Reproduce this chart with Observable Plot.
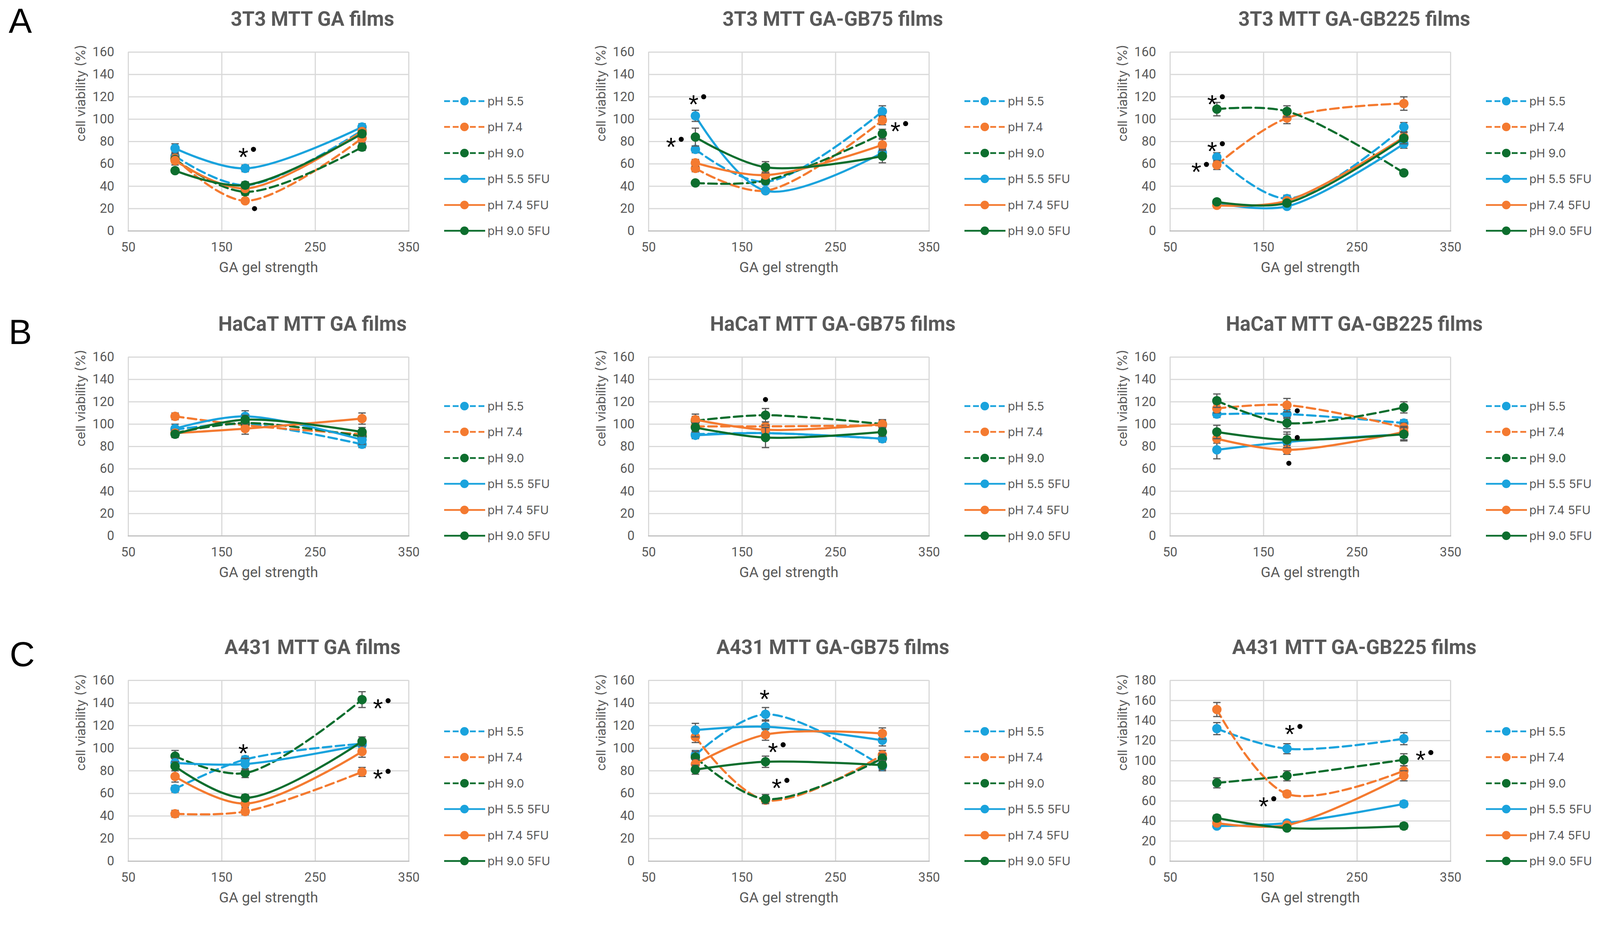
<!DOCTYPE html>
<html><head><meta charset="utf-8">
<script src="https://cdn.jsdelivr.net/npm/d3@7"></script>
<script src="https://cdn.jsdelivr.net/npm/@observablehq/plot@0.6"></script>
<style>
html,body{margin:0;padding:0;background:#fff;}
#root{position:relative;width:4238px;height:2415px;background:#fff;overflow:hidden;}
.abs{position:absolute;}
.title{font-family:"Roboto",sans-serif;font-weight:700;font-size:51px;color:#595959;white-space:nowrap;transform:translate(-50%,-50%);line-height:1;}
.letter{font-family:"Liberation Sans",sans-serif;font-size:89px;color:#000;transform:translate(-50%,-50%);line-height:1;}
.leg{font-family:"Inter","Roboto",sans-serif;font-size:30px;color:#595959;white-space:nowrap;transform:translateY(-50%);line-height:1;}
.sw{position:absolute;transform:translateY(-50%);}
</style></head><body><div id="root"></div><script>
// ---------- data ----------
const gelStrength = [100, 175, 300];
const seriesNames = ["pH 5.5", "pH 7.4", "pH 9.0", "pH 5.5 5FU", "pH 7.4 5FU", "pH 9.0 5FU"];
const seriesColors = ["#1AA3DD", "#F47A30", "#0D6E2E", "#1AA3DD", "#F47A30", "#0D6E2E"];
const seriesDashed = [true, true, true, false, false, false];
const xTicks = [50, 150, 250, 350];
const yTicks160 = [0, 20, 40, 60, 80, 100, 120, 140, 160];
const yTicks180 = [0, 20, 40, 60, 80, 100, 120, 140, 160, 180];
const rowLetters = ["A", "B", "C"];
const titlesRowA = ["3T3 MTT GA films", "3T3 MTT GA-GB75 films", "3T3 MTT GA-GB225 films"];
const titlesRowB = ["HaCaT MTT GA films", "HaCaT MTT GA-GB75 films", "HaCaT MTT GA-GB225 films"];
const titlesRowC = ["A431 MTT GA films", "A431 MTT GA-GB75 films", "A431 MTT GA-GB225 films"];
const xLabel = "GA gel strength";
const yLabel = "cell viability (%)";

// mean values, rows follow seriesNames, columns follow gelStrength
const val3T3GA      = [[67,41,90],[65,27,83],[64,35,75],[74,56,93],[63,38,89],[54,41,87]];
const val3T3GB75    = [[73,44,107],[56,36,99],[43,45,87],[103,36,70],[61,50,77],[84,57,67]];
const val3T3GB225   = [[66,29,93],[59,101,114],[109,107,52],[25,22,78],[23,27,84],[26,25,83]];
const valHaCaTGA    = [[95,100,82],[107,99,91],[92,101,89],[96,107,86],[92,96,105],[91,104,93]];
const valHaCaTGB75  = [[91,92,87],[98,98,99],[103,108,100],[90,92,87],[104,95,100],[97,88,93]];
const valHaCaTGB225 = [[109,109,101],[114,117,97],[121,101,115],[77,84,91],[87,77,93],[93,86,91]];
const valA431GA     = [[64,90,104],[42,44,79],[93,78,143],[87,86,103],[75,51,97],[84,56,106]];
const valA431GB75   = [[94,130,84],[110,54,94],[92,55,91],[116,119,107],[86,112,113],[81,88,85]];
const valA431GB225  = [[132,112,122],[151,67,90],[78,85,101],[35,38,57],[38,36,85],[43,33,35]];

// error bar half-lengths
const err3T3GA      = [[4,2,3],[4,2,4],[3,3,3],[4,3,3],[4,2,3],[2,3,3]];
const err3T3GB75    = [[3,2,5],[3,2,4],[2,3,4],[5,2,4],[3,3,5],[8,5,6]];
const err3T3GB225   = [[4,3,4],[4,5,6],[6,5,2],[2,2,4],[2,2,4],[2,2,5]];
const errHaCaTGA    = [[3,4,3],[3,4,3],[3,3,3],[4,5,4],[3,5,5],[3,4,4]];
const errHaCaTGB75  = [[3,3,3],[3,4,4],[4,6,4],[3,3,3],[5,4,4],[4,9,4]];
const errHaCaTGB225 = [[3,4,3],[4,6,4],[6,5,5],[8,7,5],[4,4,5],[6,7,6]];
const errA431GA     = [[3,3,4],[3,3,4],[5,4,7],[4,5,5],[5,3,5],[4,3,4]];
const errA431GB75   = [[4,6,4],[5,3,4],[5,4,4],[6,6,5],[4,5,5],[4,5,4]];
const errA431GB225  = [[6,5,6],[7,3,5],[5,5,6],[2,2,3],[3,2,5],[3,2,3]];

// significance marks
const note3T3GA      = [{x:173,y:72,kind:"*•"},{x:185,y:20,kind:"•"}];
const note3T3GB75    = [{x:98,y:119,kind:"*•"},{x:74,y:81,kind:"*•"},{x:314,y:95,kind:"*•"}];
const note3T3GB225   = [{x:95,y:119,kind:"*•"},{x:95,y:77,kind:"*•"},{x:78,y:58.5,kind:"*•"}];
const noteHaCaTGA    = [];
const noteHaCaTGB75  = [{x:175,y:122,kind:"•"}];
const noteHaCaTGB225 = [{x:186,y:112,kind:"•"},{x:186,y:88,kind:"•"},{x:177,y:65,kind:"•"}];
const noteA431GA     = [{x:173,y:101,kind:"*"},{x:317,y:141,kind:"*•"},{x:317,y:78.5,kind:"*•"}];
const noteA431GB75   = [{x:174,y:149,kind:"*"},{x:183,y:102,kind:"*•"},{x:187,y:70.5,kind:"*•"}];
const noteA431GB225  = [{x:178,y:133,kind:"*•"},{x:318,y:107,kind:"*•"},{x:150,y:61,kind:"*•"}];

// ---------- layout ----------
const plotLefts = [328, 1660, 2995];
const plotTops = [133, 914, 1742];
const plotHeights = [458, 458, 463];
const plotWidth = 718;
const ML = 200, MT = 20, MR = 20, MB = 150;
const gray = "#595959";

const capSymbol = {draw(context, size) {const w = Math.sqrt(size / Math.PI); context.moveTo(-w, 0); context.lineTo(w, 0);}};

const root = document.getElementById("root");
function addDiv(cls, left, top, text) {
  const d = document.createElement("div");
  d.className = "abs " + cls;
  d.style.left = left + "px"; d.style.top = top + "px";
  d.textContent = text;
  root.appendChild(d);
  return d;
}

function panel(r, c, title, vals, errs, notes, yTicks) {
  const pl = plotLefts[c], pt = plotTops[r], ph = plotHeights[r];
  const ymax = yTicks[yTicks.length - 1];
  const marks = [
    Plot.gridY(yTicks, {stroke: "#D9D9D9", strokeOpacity: 1, strokeWidth: 3}),
    Plot.gridX(xTicks, {stroke: "#D9D9D9", strokeOpacity: 1, strokeWidth: 3}),
    Plot.frame({anchor: "bottom", stroke: "#BFBFBF", strokeWidth: 3}),
    Plot.axisY({ticks: yTicks, tickSize: 0, tickPadding: 36, label: null}),
    Plot.axisX({ticks: xTicks, tickSize: 0, tickPadding: 29, label: null}),
    Plot.text([yLabel], {frameAnchor: "left", dx: -121, rotate: -90, fontSize: 33, fill: gray, fontFamily: "Inter, Roboto, sans-serif"}),
    Plot.text([xLabel], {frameAnchor: "bottom", dy: 105, fontSize: 37, fill: gray})
  ];
  seriesNames.forEach((s, i) => {
    const rows = gelStrength.map((g, j) => ({series: s, x: g, y: vals[i][j], e: errs[i][j]}));
    marks.push(
      Plot.line(rows, {x: "x", y: "y", stroke: seriesColors[i], strokeWidth: 5.5, strokeDasharray: seriesDashed[i] ? "22,11" : null, curve: "catmull-rom"}),
      Plot.ruleX(rows, {x: "x", y1: d => d.y - d.e, y2: d => d.y + d.e, stroke: gray, strokeWidth: 3}),
      Plot.dot(rows, {x: "x", y: d => d.y + d.e, symbol: capSymbol, r: 9.5, stroke: gray, strokeWidth: 3, fill: "none"}),
      Plot.dot(rows, {x: "x", y: d => d.y - d.e, symbol: capSymbol, r: 9.5, stroke: gray, strokeWidth: 3, fill: "none"}),
      Plot.dot(rows, {x: "x", y: "y", r: 12, fill: seriesColors[i], stroke: "none"})
    );
  });
  marks.push(
    Plot.text(notes.filter(n => n.kind.includes("*")), {x: "x", y: "y", text: () => "*", fontSize: 66, fill: "#000", fontFamily: "Liberation Sans, sans-serif", dy: 18}),
    Plot.dot(notes.filter(n => n.kind === "*•"), {x: "x", y: "y", r: 6.5, fill: "#000", dx: 26, dy: -3}),
    Plot.dot(notes.filter(n => n.kind === "•"), {x: "x", y: "y", r: 6.5, fill: "#000"})
  );
  const chart = Plot.plot({
    width: ML + plotWidth + MR, height: MT + ph + MB,
    marginLeft: ML, marginTop: MT, marginRight: MR, marginBottom: MB,
    x: {domain: [50, 350]},
    y: {domain: [0, ymax]},
    style: {fontFamily: "Roboto, sans-serif", fontSize: "33px", color: gray, background: "transparent", overflow: "visible"},
    marks
  });
  chart.style.position = "absolute";
  chart.style.left = (pl - ML) + "px";
  chart.style.top = (pt - MT) + "px";
  root.appendChild(chart);

  addDiv("title", pl + 472, pt - 85, title);

  // legend
  const step = 66.4;
  seriesNames.forEach((s, i) => {
    const cy = pt + ph - (5 - i) * step;
    const svg = d3.create("svg").attr("class", "sw").attr("width", 110).attr("height", 30)
      .style("left", (pl + 808) + "px").style("top", cy + "px");
    svg.append("line").attr("x1", 1).attr("x2", 106).attr("y1", 15).attr("y2", 15)
      .attr("stroke", seriesColors[i]).attr("stroke-width", 4.5)
      .attr("stroke-dasharray", seriesDashed[i] ? "15,7" : null);
    svg.append("circle").attr("cx", 53).attr("cy", 15).attr("r", 11).attr("fill", seriesColors[i]);
    root.appendChild(svg.node());
    addDiv("leg", pl + 920, cy, s);
  });
}

const rowTitles = [titlesRowA, titlesRowB, titlesRowC];
const rowVals = [[val3T3GA, val3T3GB75, val3T3GB225], [valHaCaTGA, valHaCaTGB75, valHaCaTGB225], [valA431GA, valA431GB75, valA431GB225]];
const rowErrs = [[err3T3GA, err3T3GB75, err3T3GB225], [errHaCaTGA, errHaCaTGB75, errHaCaTGB225], [errA431GA, errA431GB75, errA431GB225]];
const rowNotes = [[note3T3GA, note3T3GB75, note3T3GB225], [noteHaCaTGA, noteHaCaTGB75, noteHaCaTGB225], [noteA431GA, noteA431GB75, noteA431GB225]];

for (let r = 0; r < 3; r++) {
  for (let c = 0; c < 3; c++) {
    const yt = (r === 2 && c === 2) ? yTicks180 : yTicks160;
    panel(r, c, rowTitles[r][c], rowVals[r][c], rowErrs[r][c], rowNotes[r][c], yt);
  }
}
const letterPos = [[52, 53], [52, 850], [57, 1675]];
rowLetters.forEach((L, i) => addDiv("letter", letterPos[i][0], letterPos[i][1], L));
</script></body></html>
